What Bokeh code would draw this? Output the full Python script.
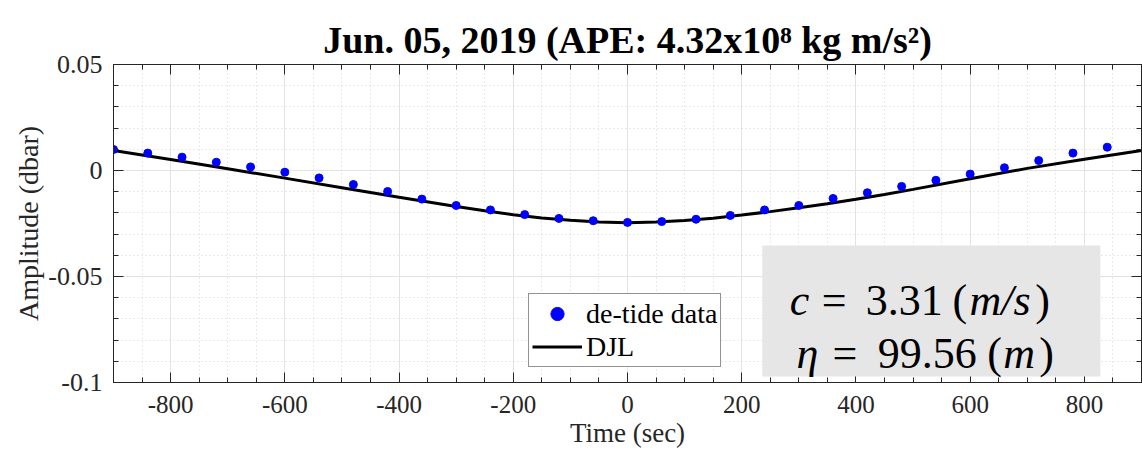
from bokeh.plotting import figure
from bokeh.models import (LinearAxis, FixedTicker, Legend, LegendItem, BoxAnnotation,
                          Label, Range1d, CustomJSTickFormatter)
from bokeh.embed import file_html
from bokeh.resources import INLINE

# ---- data ----
data_t = [-900, -840, -780, -720, -660, -600, -540, -480, -420, -360, -300, -240, -180, -120, -60,
          0, 60, 120, 180, 240, 300, 360, 420, 480, 540, 600, 660, 720, 780, 840]
data_amp = [0.0099, 0.0082, 0.0063, 0.0039, 0.0017, -0.0008, -0.0035, -0.0066, -0.0099, -0.0135,
            -0.0165, -0.0186, -0.0208, -0.0226, -0.0237, -0.0245, -0.0241, -0.0230, -0.0212, -0.0186,
            -0.0165, -0.0132, -0.0105, -0.0075, -0.0046, -0.0017, 0.0013, 0.0047, 0.0082, 0.0110]

djl_t = [-900, -800, -700, -600, -500, -400, -300, -250, -200, -150, -100, -50, 0,
         50, 100, 150, 200, 250, 300, 350, 400, 450, 500, 600, 700, 800, 900]
djl_amp = [0.0094, 0.0052, 0.0008, -0.0036, -0.0081, -0.0126, -0.0170, -0.0190, -0.0209, -0.0224,
           -0.0235, -0.0243, -0.0246, -0.0243, -0.0236, -0.0225, -0.0210, -0.0194, -0.0176,
           -0.0157, -0.0136, -0.0113, -0.0089, -0.0039, 0.0010, 0.0053, 0.0094]

x_ticks = [-800, -600, -400, -200, 0, 200, 400, 600, 800]
x_tick_labels = ["-800", "-600", "-400", "-200", "0", "200", "400", "600", "800"]
x_minor = list(range(-900, 901, 50))
y_ticks = [0.05, 0.0, -0.05, -0.1]
y_tick_labels = ["0.05", "0", "-0.05", "-0.1"]
y_minor = [round(-0.1 + 0.01 * i, 2) for i in range(16)]

title_text = "Jun. 05, 2019 (APE: 4.32x10\u2078 kg m/s\u00b2)"
c_value = "3.31"
eta_value = "99.56"

SERIF = "Liberation Serif"
AX_COL = "#262626"

p = figure(width=1142, height=453, output_backend="svg", toolbar_location=None,
           x_range=Range1d(-900, 900), y_range=Range1d(-0.1, 0.05),
           x_axis_label="Time (sec)", y_axis_label="Amplitude (dbar)",
           min_border_left=113, min_border_right=1, min_border_top=64, min_border_bottom=71)

p.title.text = title_text
p.title.align = "center"
p.title.text_font = SERIF
p.title.text_font_size = "38px"
p.title.text_font_style = "bold"
p.title.text_color = "black"
p.title.standoff = 8

p.outline_line_color = AX_COL
p.outline_line_width = 1
p.background_fill_color = "white"
p.border_fill_color = "white"

def style_axis(ax):
    ax.axis_line_color = AX_COL
    ax.major_tick_line_color = AX_COL
    ax.minor_tick_line_color = AX_COL
    ax.major_tick_in = 10
    ax.major_tick_out = 0
    ax.minor_tick_in = 5
    ax.minor_tick_out = 0
    ax.major_label_text_font = SERIF
    ax.major_label_text_font_size = "25px"
    ax.major_label_text_color = AX_COL
    ax.axis_label_text_font = SERIF
    ax.axis_label_text_font_size = "27px"
    ax.axis_label_text_font_style = "normal"
    ax.axis_label_text_color = AX_COL

xt = FixedTicker(ticks=x_ticks, minor_ticks=x_minor)
yt = FixedTicker(ticks=y_ticks, minor_ticks=y_minor)
p.xaxis.ticker = xt
p.yaxis.ticker = yt
p.xaxis.major_label_overrides = {v: s for v, s in zip(x_ticks, x_tick_labels)}
p.yaxis.major_label_overrides = {v: s for v, s in zip(y_ticks, y_tick_labels)}
style_axis(p.xaxis[0])
style_axis(p.yaxis[0])
p.yaxis.major_label_text_font_size = "26px"
p.yaxis.axis_label_text_font_size = "28px"
p.xaxis.major_label_standoff = 13
p.yaxis.major_label_standoff = 11
p.xaxis.axis_label_standoff = 2
p.yaxis.axis_label_standoff = 1

blank = CustomJSTickFormatter(code="return ''")
top_ax = LinearAxis(ticker=FixedTicker(ticks=x_ticks, minor_ticks=x_minor), formatter=blank)
right_ax = LinearAxis(ticker=FixedTicker(ticks=y_ticks, minor_ticks=y_minor), formatter=blank)
for ax in (top_ax, right_ax):
    style_axis(ax)
    ax.major_label_standoff = 0
p.add_layout(top_ax, "above")
p.add_layout(right_ax, "right")

p.xgrid.ticker = xt
p.ygrid.ticker = yt
for g in (p.xgrid[0], p.ygrid[0]):
    g.grid_line_color = "#e3e3e3"
    g.grid_line_width = 1
    g.minor_grid_line_color = "#d4d4d4"
    g.minor_grid_line_dash = "1 3"
    g.minor_grid_line_width = 1

line_r = p.line(djl_t, djl_amp, line_color="black", line_width=3)
dot_r = p.scatter(data_t, data_amp, size=8, fill_color="#0000ff", line_color="#0000ff")

legend = Legend(items=[LegendItem(label="de-tide data", renderers=[dot_r]),
                       LegendItem(label="DJL", renderers=[line_r])],
                location=(415, 15))
legend.label_text_font = SERIF
legend.label_text_font_size = "28px"
legend.label_text_color = "black"
legend.glyph_width = 50
legend.glyph_height = 33
legend.label_standoff = 4
legend.padding = 3
legend.spacing = 0
legend.margin = 0
legend.border_line_color = AX_COL
legend.border_line_width = 1
legend.background_fill_color = "white"
legend.background_fill_alpha = 1
p.add_layout(legend, "center")

box = BoxAnnotation(left=236, right=828, top=-0.0354, bottom=-0.0972,
                    fill_color="#e6e6e6", fill_alpha=1, line_alpha=0)
p.add_layout(box)

def piece(x, y, txt, italic=False):
    lab = Label(x=x, y=y, text=txt, text_font=SERIF, text_font_size="44px",
                text_font_style="italic" if italic else "normal", text_color="black",
                text_baseline="alphabetic", text_align="left")
    p.add_layout(lab)

y1 = -0.0613
piece(284, y1, "c", True)
piece(340, y1, "=")
piece(417, y1, c_value)
piece(569, y1, "(")
piece(599, y1, "m/s", True)
piece(714, y1, ")")
y2 = -0.0863
piece(296, y2, "\u03b7", True)
piece(359, y2, "=")
piece(438, y2, eta_value)
piece(630, y2, "(")
piece(658, y2, "m", True)
piece(721, y2, ")")

open("out.html", "w").write(file_html(p, INLINE))
